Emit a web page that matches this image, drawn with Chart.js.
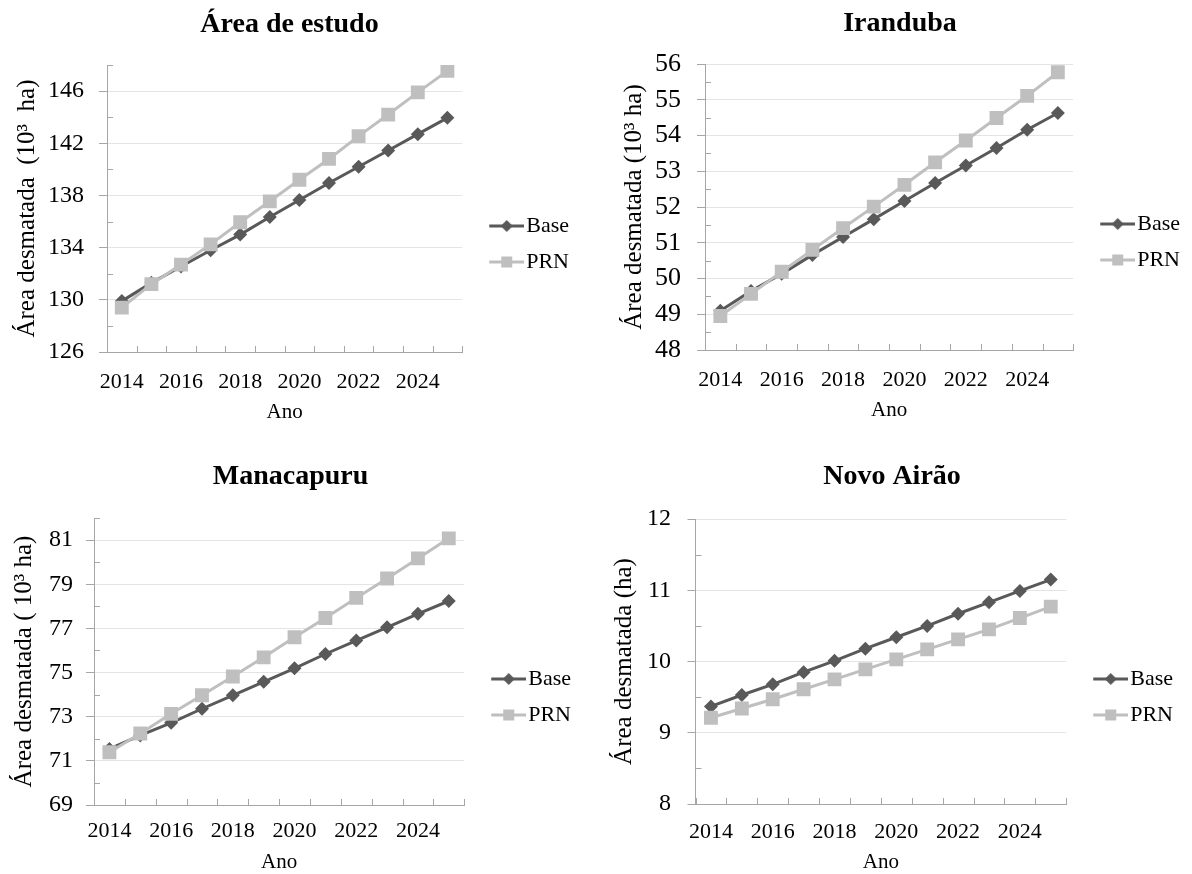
<!DOCTYPE html>
<html>
<head>
<meta charset="utf-8">
<script src="https://cdn.jsdelivr.net/npm/chart.js@4.4.0/dist/chart.umd.min.js"></script>
<style>
  html, body { margin: 0; padding: 0; background: #fff; }
  #quadro { position: relative; width: 1192px; height: 874px; }
  canvas { position: absolute; }
</style>
</head>
<body>
<div id="quadro">
  <canvas id="c1" width="596" height="437" style="left:0;top:0"></canvas>
  <canvas id="c2" width="596" height="437" style="left:596px;top:0"></canvas>
  <canvas id="c3" width="596" height="437" style="left:0;top:437px"></canvas>
  <canvas id="c4" width="596" height="437" style="left:596px;top:437px"></canvas>
</div>
<script>
// anos (eixo x) e rótulos mostrados
const anos = ['2014', '2015', '2016', '2017', '2018', '2019', '2020', '2021', '2022', '2023', '2024', '2025'];
const anosRotulo = ['2014', '2016', '2018', '2020', '2022', '2024'];

// Área de estudo (10³ ha)
const estudoBase = [129.9, 131.3, 132.55, 133.8, 135.0, 136.35, 137.65, 138.95, 140.2, 141.45, 142.7, 143.95];
const estudoPRN = [129.4, 131.2, 132.7, 134.25, 135.95, 137.55, 139.2, 140.8, 142.55, 144.2, 145.9, 147.55];
const estudoTicks = [126, 130, 134, 138, 142, 146];

// Iranduba (10³ ha)
const irandubaBase = [49.1, 49.65, 50.13, 50.66, 51.16, 51.66, 52.17, 52.67, 53.16, 53.65, 54.16, 54.63];
const irandubaPRN = [48.95, 49.57, 50.19, 50.8, 51.41, 52.01, 52.62, 53.25, 53.86, 54.49, 55.11, 55.77];
const irandubaTicks = [48, 49, 50, 51, 52, 53, 54, 55, 56];

// Manacapuru (10³ ha)
const manacapuruBase = [71.54, 72.15, 72.72, 73.36, 73.97, 74.58, 75.19, 75.84, 76.45, 77.05, 77.66, 78.24];
const manacapuruPRN = [71.39, 72.24, 73.13, 73.97, 74.82, 75.69, 76.6, 77.47, 78.38, 79.26, 80.17, 81.08];
const manacapuruTicks = [69, 71, 73, 75, 77, 79, 81];

// Novo Airão (ha)
const novoAiraoBase = [9.37, 9.53, 9.68, 9.85, 10.01, 10.18, 10.34, 10.5, 10.67, 10.83, 10.99, 11.15];
const novoAiraoPRN = [9.21, 9.34, 9.47, 9.61, 9.75, 9.89, 10.03, 10.17, 10.31, 10.45, 10.61, 10.77];
const novoAiraoTicks = [8, 9, 10, 11, 12];

const corBase = '#595959';
const corPRN = '#bfbfbf';
const corEixo = '#a6a6a6';
const corGrade = '#e4e4e4';
const serif = '"Liberation Serif", "Times New Roman", serif';

Chart.defaults.color = '#000';
Chart.defaults.font.family = serif;

// amostra da legenda: linha com marcador
function amostra(cor, forma) {
    const c = document.createElement('canvas');
    c.width = 57; c.height = 16;
    const g = c.getContext('2d');
    g.strokeStyle = cor; g.lineWidth = 3;
    g.beginPath(); g.moveTo(22, 8); g.lineTo(57, 8); g.stroke();
    g.fillStyle = cor;
    if (forma === 'losango') {
        g.beginPath();
        g.moveTo(39.5, 2); g.lineTo(45.5, 8); g.lineTo(39.5, 14); g.lineTo(33.5, 8);
        g.closePath(); g.fill();
    } else {
        g.fillRect(34, 2.5, 11, 11);
    }
    return c;
}
const amostras = [amostra(corBase, 'losango'), amostra(corPRN, 'quadrado')];

// marcas internas: divisões das categorias e subdivisões do eixo y
const marcasInternas = {
    id: 'marcasInternas',
    beforeDatasetsDraw(chart, args, opts) {
        const {ctx, chartArea, scales: {x, y}} = chart;
        ctx.save();
        ctx.strokeStyle = corEixo;
        ctx.lineWidth = 1;
        ctx.beginPath();
        for (let i = 0; i <= anos.length; i++) {
            const px = Math.round(x.getPixelForValue(i - 0.5)) + 0.5;
            ctx.moveTo(px, chartArea.bottom);
            ctx.lineTo(px, chartArea.bottom - 6);
        }
        y.ticks.forEach(t => {
            if (!opts.principais.some(v => Math.abs(v - t.value) < 1e-6)) {
                const py = Math.round(y.getPixelForValue(t.value)) + 0.5;
                ctx.moveTo(chartArea.left, py);
                ctx.lineTo(chartArea.left + 6, py);
            }
        });
        ctx.stroke();
        ctx.restore();
    }
};

const paineis = [
    { id: 'c1', titulo: 'Área de estudo', eixoY: 'Área desmatada  (10³  ha)',
      base: estudoBase, prn: estudoPRN, ticks: estudoTicks, min: 126, max: 148, passo: 2,
      padL: 0, padR: 17, yLarg: 107, yTitPad: 14.5, yTickPad: 15, yFonte: 24,
      titPad: {top: 11, bottom: 26}, xAlt: 85, xTickPad: 17, xTitPad: 14.5, legEsp: 51 },
    { id: 'c2', titulo: 'Iranduba', eixoY: 'Área desmatada (10³ ha)',
      base: irandubaBase, prn: irandubaPRN, ticks: irandubaTicks, min: 48, max: 56, passo: 0.5,
      padL: 14, padR: 2, yLarg: 95, yTitPad: 12, yTickPad: 16, yFonte: 26,
      titPad: {top: 10, bottom: 26}, xAlt: 87, xTickPad: 17, xTitPad: 16.5, legEsp: 47 },
    { id: 'c3', titulo: 'Manacapuru', eixoY: 'Área desmatada ( 10³ ha)',
      base: manacapuruBase, prn: manacapuruPRN, ticks: manacapuruTicks, min: 69, max: 82, passo: 1,
      padL: 0, padR: 15, yLarg: 94, yTitPad: 11.5, yTickPad: 13, yFonte: 24,
      titPad: {top: 26, bottom: 27}, xAlt: 69, xTickPad: 13, xTitPad: 1.5, legEsp: 83 },
    { id: 'c4', titulo: 'Novo Airão', eixoY: 'Área desmatada (ha)',
      base: novoAiraoBase, prn: novoAiraoPRN, ticks: novoAiraoTicks, min: 8, max: 12, passo: 0.5,
      padL: 5, padR: 9, yLarg: 94.5, yTitPad: 11, yTickPad: 16.5, yFonte: 24,
      titPad: {top: 26, bottom: 28}, xAlt: 70, xTickPad: 15, xTitPad: 1, legEsp: 83 }
];

paineis.forEach(p => {
    const principal = v => p.ticks.some(t => Math.abs(t - v) < 1e-6);
    new Chart(document.getElementById(p.id), {
        type: 'line',
        data: {
            labels: anos,
            datasets: [
                { label: 'Base', data: p.base, order: 1,
                  borderColor: corBase, backgroundColor: corBase, borderWidth: 3,
                  pointStyle: 'rectRot', pointRadius: 7, pointBorderWidth: 0, tension: 0 },
                { label: 'PRN', data: p.prn, order: 0,
                  borderColor: corPRN, backgroundColor: corPRN, borderWidth: 3,
                  pointStyle: 'rect', pointRadius: 9.8, pointBorderWidth: 0, tension: 0 }
            ]
        },
        options: {
            responsive: false,
            animation: false,
            layout: { padding: { left: p.padL, right: p.padR, top: 0, bottom: 0 } },
            plugins: {
                title: {
                    display: true, text: p.titulo, color: '#000',
                    font: { family: serif, size: 28, weight: 'bold', lineHeight: 1 },
                    padding: p.titPad
                },
                legend: {
                    position: 'right',
                    title: { display: true, text: '', font: { size: 1, lineHeight: 1 },
                             padding: { top: p.legEsp - 1, bottom: 0 } },
                    labels: {
                        usePointStyle: true, pointStyleWidth: 39, padding: 14,
                        color: '#000', font: { family: serif, size: 22 },
                        generateLabels(chart) {
                            const itens = Chart.defaults.plugins.legend.labels.generateLabels(chart);
                            itens.sort((a, b) => a.datasetIndex - b.datasetIndex);
                            itens.forEach(it => { it.pointStyle = amostras[it.datasetIndex]; });
                            return itens;
                        }
                    }
                },
                tooltip: { enabled: false },
                marcasInternas: { principais: p.ticks }
            },
            scales: {
                x: {
                    type: 'category',
                    offset: true,
                    grid: { display: false, drawTicks: false },
                    border: { display: true, color: corEixo, width: 1 },
                    ticks: {
                        autoSkip: false, maxRotation: 0, padding: p.xTickPad,
                        font: { family: serif, size: 22 },
                        callback(value, index) {
                            const r = this.getLabelForValue(value);
                            return anosRotulo.includes(r) ? r : '';
                        }
                    },
                    title: { display: true, text: 'Ano', font: { family: serif, size: 21, lineHeight: 1 },
                             padding: { top: 0, bottom: p.xTitPad } },
                    afterFit(s) { s.height = p.xAlt; }
                },
                y: {
                    min: p.min, max: p.max,
                    grid: {
                        color: c => principal(c.tick.value) ? corGrade : 'rgba(0,0,0,0)',
                        tickColor: c => principal(c.tick.value) ? corEixo : 'rgba(0,0,0,0)',
                        tickLength: 8, drawTicks: true
                    },
                    border: { display: true, color: corEixo, width: 1 },
                    ticks: {
                        stepSize: p.passo, maxTicksLimit: 100, autoSkip: false, padding: p.yTickPad,
                        font: { family: serif, size: p.yFonte },
                        callback: v => principal(v) ? String(v) : ''
                    },
                    title: { display: true, text: p.eixoY, font: { family: serif, size: 25, lineHeight: 1 },
                             padding: { top: p.yTitPad, bottom: 0 } },
                    afterFit(s) { s.width = p.yLarg; }
                }
            }
        },
        plugins: [marcasInternas]
    });
});
</script>
</body>
</html>
